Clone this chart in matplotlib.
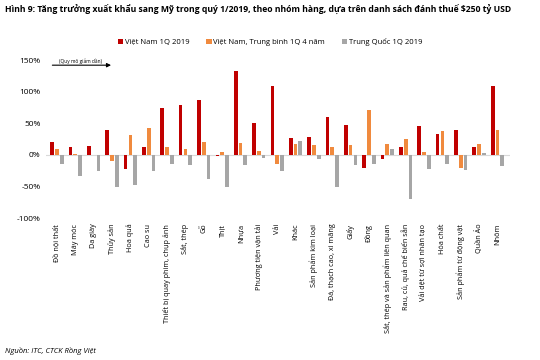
import matplotlib
matplotlib.use("Agg")
import matplotlib.pyplot as plt
import numpy as np

plt.rcParams['font.family'] = ['Open Sans', 'DejaVu Sans']

categories = ['Đồ nội thất', 'Máy móc', 'Da giày', 'Thủy sản', 'Hoa quả', 'Cao su',
              'Thiết bị quay phim, chụp ảnh', 'Sắt, thép', 'Gỗ', 'Thịt', 'Nhựa',
              'Phương tiện vận tải', 'Vải', 'Khác', 'Sản phẩm kim loại',
              'Đá, thạch cao, xi măng', 'Giấy', 'Đồng', 'Sắt, thép và sản phẩm liên quan',
              'Rau, củ, quả chế biến sẵn', 'Vải dệt từ sợi nhân tạo', 'Hóa chất',
              'Sản phẩm từ động vật', 'Quần Áo', 'Nhôm']
vn_1q2019 = [20, 12, 14, 39, -23, 13, 75, 79, 87, -2, 132, 51, 109, 27, 29, 60, 47, -21, -6, 13, 46, 33, 40, 13, 109]
vn_avg4y = [9.5, 1, 0.5, -9, 31, 43, 13, 9.5, 21, 4, 19, 6, -14, 17, 15, 13, 16, 71, 17, 26, 5, 38, -21, 17, 39]
cn_1q2019 = [-15, -33, -26, -50, -48, -26, -14, -16, -38, -51, -16, -5, -26, 22, -7, -50, -16, -15, 9, -70, -23, -15, -24, 3, -17]
series_names = ['Việt Nam 1Q 2019', 'Việt Nam, Trung bình 1Q 4 năm', 'Trung Quốc 1Q 2019']
colors = ['#C00000', '#F08A3E', '#A6A6A6']

fig = plt.figure(figsize=(5.4, 3.6), dpi=100)
ax = fig.add_axes([0.085, 0.394, 0.86, 0.439])

x = np.arange(len(categories))
w = 0.2
for i, (vals, name, c) in enumerate(zip([vn_1q2019, vn_avg4y, cn_1q2019], series_names, colors)):
    ax.bar(x + (i - 1) * 0.26, vals, width=w, color=c, label=name, zorder=2)

ax.axhline(0, color='#D9D9D9', lw=0.8, zorder=1)
ax.set_ylim(-100, 150)
ax.set_xlim(-0.6, len(categories) - 0.3)
ax.set_yticks([-100, -50, 0, 50, 100, 150])
ax.set_yticklabels(['-100%', '-50%', '0%', '50%', '100%', '150%'], fontsize=6)
ax.set_xticks(x)
ax.set_xticklabels(categories, rotation=90, fontsize=5.2)
ax.tick_params(length=0, pad=4)
for s in ax.spines.values():
    s.set_visible(False)

ax.annotate('', xy=(3.1, 142), xytext=(-0.4, 142),
            arrowprops=dict(arrowstyle='-|>', color='black', lw=0.8, mutation_scale=6))
ax.text(1.3, 149, '(Quy mô giảm dần)', fontsize=3.5, ha='center', va='center')

fig.legend(loc='center', bbox_to_anchor=(0.5, 0.883), ncol=3, fontsize=5.5,
           frameon=False, handlelength=0.7, handleheight=0.7, columnspacing=2.2, handletextpad=0.2)

fig.text(0.01, 0.972, 'Hình 9: Tăng trưởng xuất khẩu sang Mỹ trong quý 1/2019, theo nhóm hàng, dựa trên danh sách đánh thuế $250 tỷ USD',
         fontsize=6.2, fontweight='bold', va='center')
fig.text(0.01, 0.025, 'Nguồn: ITC, CTCK Rồng Việt', fontsize=5.5, style='italic', va='center')

fig.savefig('out.png', dpi=100)
